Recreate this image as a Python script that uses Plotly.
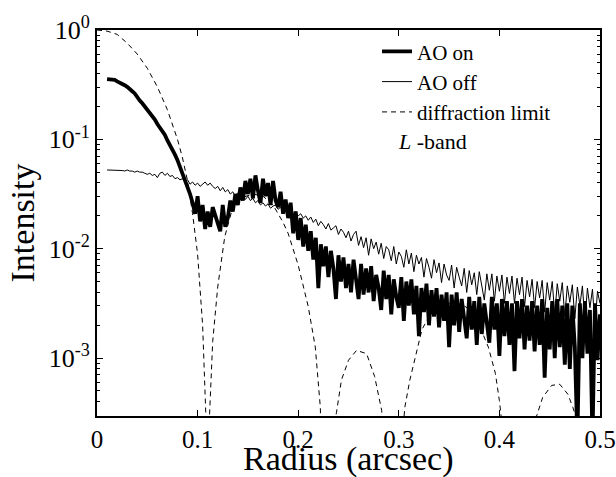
import numpy as np
import plotly.graph_objects as go

# ---------------- data ----------------
# noisy profiles sampled every 0.0025 arcsec starting at 0.010 arcsec
r_start = 0.010
r_step = 0.0025

# log10(intensity), AO on
ao_on_log10 = [
    -0.45, -0.45, -0.45, -0.455, -0.47, -0.48, -0.49, -0.505,
    -0.52, -0.535, -0.56, -0.58, -0.62, -0.645, -0.67, -0.70,
    -0.73, -0.75, -0.78, -0.82, -0.86, -0.89, -0.92, -0.96,
    -1.01, -1.05, -1.09, -1.14, -1.19, -1.25, -1.31, -1.38,
    -1.42, -1.50, -1.58, -1.68, -1.52, -1.75, -1.60, -1.82,
    -1.66, -1.80, -1.62, -1.70, -1.78, -1.84, -1.60, -1.80,
    -1.72, -1.56, -1.66, -1.50, -1.60, -1.44, -1.56, -1.38,
    -1.50, -1.36, -1.54, -1.33, -1.47, -1.58, -1.36, -1.52,
    -1.40, -1.60, -1.38, -1.56, -1.62, -1.48, -1.68, -1.55,
    -1.72, -1.58, -1.86, -1.66, -1.92, -1.72, -1.98, -1.78,
    -2.02, -1.84, -2.10, -1.90, -2.36, -1.96, -2.16, -1.98,
    -2.26, -2.02, -2.18, -2.46, -2.06, -2.30, -2.08, -2.36,
    -2.14, -2.40, -2.10, -2.30, -2.46, -2.14, -2.42, -2.18,
    -2.40, -2.16, -2.48, -2.24, -2.36, -2.56, -2.20, -2.46,
    -2.24, -2.60, -2.28, -2.44, -2.54, -2.26, -2.66, -2.30,
    -2.52, -2.28, -2.60, -2.34, -2.80, -2.36, -2.58, -2.32,
    -2.70, -2.38, -2.62, -2.36, -2.72, -2.42, -2.66, -2.40,
    -2.90, -2.42, -2.70, -2.40, -2.76, -2.46, -2.68, -2.82,
    -2.44, -2.74, -2.48, -2.88, -2.44, -2.78, -2.50, -2.72,
    -2.86, -2.44, -2.74, -2.50, -2.98, -2.46, -2.80, -2.48,
    -2.88, -2.50, -3.12, -2.48, -2.82, -2.46, -2.92, -2.52,
    -2.84, -2.48, -2.94, -2.52, -2.88, -2.46, -3.18, -2.54,
    -2.92, -2.48, -3.00, -2.46, -2.90, -2.52, -3.06, -2.50,
    -3.10, -2.52, -2.90, -3.75, -2.50, -3.00, -2.48, -2.96,
    -2.56, -3.75, -2.50, -3.02, -2.60,
]

# log10(intensity), AO off
ao_off_log10 = [
    -1.28, -1.28, -1.28, -1.28, -1.285, -1.28, -1.285, -1.29,
    -1.28, -1.29, -1.29, -1.30, -1.29, -1.30, -1.30, -1.31,
    -1.32, -1.31, -1.33, -1.32, -1.35, -1.31, -1.30, -1.33,
    -1.31, -1.34, -1.33, -1.36, -1.35, -1.37, -1.36, -1.39,
    -1.37, -1.41, -1.39, -1.42, -1.40, -1.43, -1.41, -1.39,
    -1.42, -1.40, -1.43, -1.45, -1.43, -1.47, -1.44, -1.48,
    -1.46, -1.50, -1.48, -1.52, -1.49, -1.53, -1.51, -1.55,
    -1.52, -1.56, -1.54, -1.58, -1.56, -1.60, -1.58, -1.61,
    -1.59, -1.63, -1.61, -1.60, -1.64, -1.62, -1.66, -1.63,
    -1.66, -1.64, -1.69, -1.66, -1.70, -1.68, -1.72, -1.70,
    -1.74, -1.71, -1.76, -1.73, -1.79, -1.75, -1.78, -1.82,
    -1.77, -1.83, -1.81, -1.79, -1.87, -1.82, -1.85, -1.90,
    -1.84, -1.93, -1.87, -1.84, -1.97, -1.89, -1.99, -1.90,
    -2.06, -1.91, -2.00, -1.94, -2.05, -1.95, -2.09, -1.98,
    -2.01, -2.11, -1.98, -2.14, -2.03, -2.07, -2.17, -2.01,
    -2.14, -2.04, -2.21, -2.06, -2.14, -2.08, -2.26, -2.09,
    -2.17, -2.27, -2.10, -2.22, -2.13, -2.31, -2.14, -2.24,
    -2.29, -2.15, -2.36, -2.17, -2.26, -2.34, -2.18, -2.40,
    -2.20, -2.33, -2.22, -2.42, -2.21, -2.35, -2.47, -2.23,
    -2.38, -2.23, -2.48, -2.25, -2.39, -2.24, -2.50, -2.26,
    -2.41, -2.25, -2.50, -2.27, -2.42, -2.26, -2.53, -2.29,
    -2.44, -2.28, -2.54, -2.30, -2.45, -2.29, -2.58, -2.31,
    -2.47, -2.30, -2.60, -2.32, -2.48, -2.31, -2.62, -2.34,
    -2.49, -2.33, -2.64, -2.35, -2.52, -2.34, -2.66, -2.36,
    -2.54, -2.37, -2.70, -2.39, -2.50,
]

# diffraction-limited profile (radius, log10 intensity)
diff_radius = [
    0.0, 0.01, 0.02, 0.03, 0.04, 0.05, 0.06, 0.07, 0.08, 0.085, 0.09, 0.095,
    0.10, 0.105, 0.1085, 0.110, 0.1115, 0.115, 0.12, 0.127, 0.135, 0.145,
    0.155, 0.165, 0.175, 0.185, 0.19, 0.20, 0.21, 0.217, 0.222, 0.227,
    0.232, 0.238, 0.243, 0.25, 0.258, 0.268, 0.276, 0.283, 0.289, 0.295,
    0.301, 0.306, 0.311, 0.318, 0.323, 0.33, 0.34, 0.35, 0.36, 0.37, 0.38,
    0.389, 0.396, 0.40, 0.405, 0.41, 0.42, 0.43, 0.437, 0.443, 0.452, 0.46,
    0.468, 0.473, 0.478, 0.484, 0.49, 0.50,
]
diff_log10 = [
    0.0, -0.01, -0.04, -0.12, -0.22, -0.35, -0.52, -0.73, -1.0, -1.17, -1.38, -1.68,
    -2.05, -2.7, -3.6, -5.5, -3.6, -2.85, -2.35, -1.89, -1.62, -1.53,
    -1.5, -1.52, -1.6, -1.76, -1.86, -2.15, -2.53, -2.9, -3.45, -5.5,
    -3.8, -3.5, -3.2, -3.02, -2.93, -2.96, -3.17, -3.48, -4.2, -6.0,
    -4.0, -3.45, -3.2, -2.93, -2.74, -2.62, -2.53, -2.5, -2.5, -2.55, -2.7,
    -2.9, -3.14, -3.39, -3.8, -4.5, -6.0, -4.2, -3.53, -3.36, -3.25, -3.24,
    -3.33, -3.45, -3.6, -4.5, -6.0, -4.5,
]

x_tick_vals = [0, 0.1, 0.2, 0.3, 0.4, 0.5]
x_tick_text = ["0", "0.1", "0.2", "0.3", "0.4", "0.5"]
y_tick_vals = [1e-3, 1e-2, 1e-1, 1]
y_tick_text = ["10<sup>-3</sup>", "10<sup>-2</sup>", "10<sup>-1</sup>", "10<sup>0</sup>"]

# ---------------- figure ----------------
radius = r_start + r_step * np.arange(len(ao_on_log10))
radius_off = r_start + r_step * np.arange(len(ao_off_log10))

ao_on = 10.0 ** np.array(ao_on_log10)
ao_off = 10.0 ** np.array(ao_off_log10)
diff = 10.0 ** np.array(diff_log10)

FONT = "Liberation Serif"

fig = go.Figure()
fig.add_trace(go.Scatter(
    x=diff_radius, y=diff, mode="lines", name="diffraction limit", legendrank=3,
    line=dict(color="black", width=1, dash="5px,4px"),
))
fig.add_trace(go.Scatter(
    x=radius_off, y=ao_off, mode="lines", name="AO off", legendrank=2,
    line=dict(color="black", width=1),
))
fig.add_trace(go.Scatter(
    x=radius, y=ao_on, mode="lines", name="AO on", legendrank=1,
    line=dict(color="black", width=3.8),
))

minor_vals = []
for dec in [1e-4, 1e-3, 1e-2, 1e-1]:
    for m in range(2, 10):
        minor_vals.append(m * dec)

fig.update_layout(
    width=616, height=477,
    margin=dict(l=97, r=16, t=30, b=61),
    paper_bgcolor="white", plot_bgcolor="white",
    font=dict(family=FONT, color="black"),
    showlegend=True,
    legend=dict(
        x=0.5567, y=0.997, xanchor="left", yanchor="top",
        bgcolor="rgba(0,0,0,0)", borderwidth=0,
        font=dict(family=FONT, size=21, color="black"),
        itemwidth=30, tracegroupgap=0,
    ),
    annotations=[
        dict(
            x=0.594, y=0.71, xref="paper", yref="paper", xanchor="left", yanchor="middle",
            text="<i>L</i> -band", showarrow=False,
            font=dict(family=FONT, size=22, color="black"),
        ),
        dict(
            x=0.5, y=-0.112, xref="paper", yref="paper", xanchor="center", yanchor="middle",
            text="Radius (arcsec)", showarrow=False,
            font=dict(family=FONT, size=34, color="black"),
        ),
    ],
)

fig.update_xaxes(
    range=[0, 0.5], tickmode="array", tickvals=x_tick_vals, ticktext=x_tick_text,
    ticks="inside", ticklen=6, tickwidth=1.2, tickcolor="black",
    showline=True, linewidth=2, linecolor="black", mirror="allticks",
    showgrid=False, zeroline=False, automargin=False,
    tickfont=dict(family=FONT, size=25, color="black"),
)
fig.update_yaxes(
    type="log", range=[-3.53, 0], tickmode="array", tickvals=y_tick_vals, ticktext=y_tick_text,
    ticks="inside", ticklen=6, tickwidth=1.2, tickcolor="black",
    minor=dict(tickmode="array", tickvals=minor_vals, ticks="inside", ticklen=3,
               tickwidth=1, tickcolor="black", showgrid=False),
    showline=True, linewidth=2, linecolor="black", mirror="allticks",
    showgrid=False, zeroline=False, automargin=False,
    tickfont=dict(family=FONT, size=26, color="black"),
    title=dict(text="Intensity", font=dict(family=FONT, size=34, color="black"), standoff=4),
)

fig.write_html(
    "out.html",
    config={"displayModeBar": False},
    post_script="document.body.style.margin='0px';document.body.style.overflow='hidden';",
)
